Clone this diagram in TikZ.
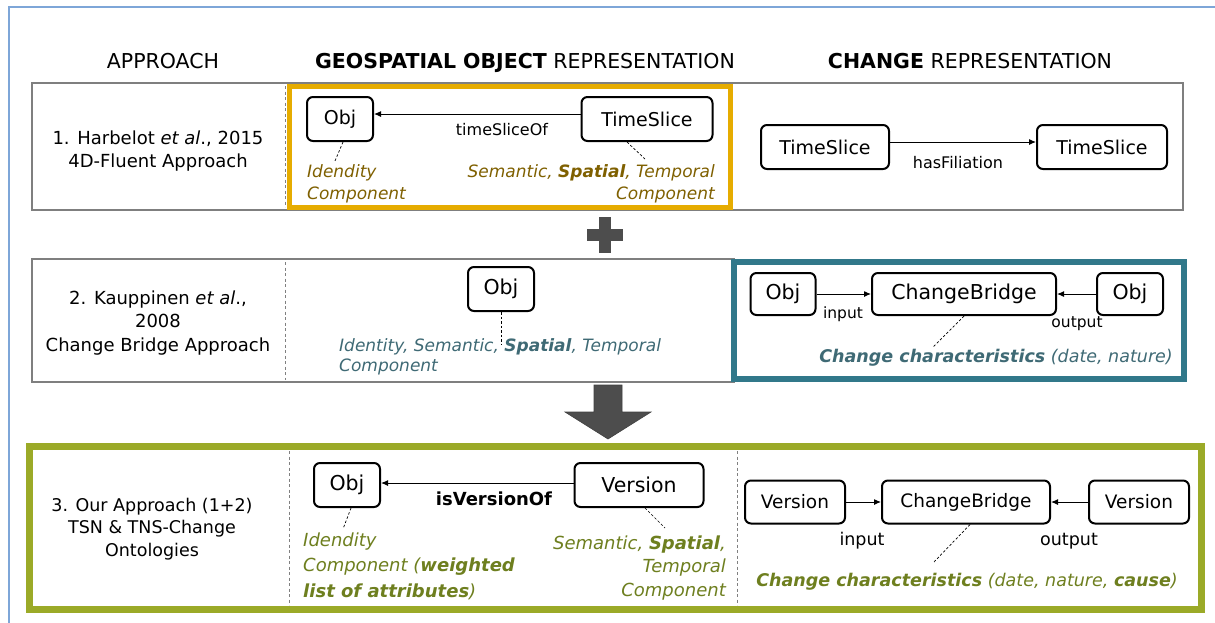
\documentclass[tikz,border=0pt]{standalone}
\usepackage{fontspec}
\setmainfont{DejaVu Sans}
\usetikzlibrary{arrows.meta}
\definecolor{goldframe}{HTML}{E6AC00}
\definecolor{goldtext}{HTML}{7F6000}
\definecolor{tealframe}{HTML}{31788A}
\definecolor{tealtext}{HTML}{3F6A75}
\definecolor{greenframe}{HTML}{9BAA28}
\definecolor{greentext}{HTML}{6E7F1F}
\definecolor{outerblue}{HTML}{7EA6D8}
\definecolor{boxgray}{HTML}{7F7F7F}
\definecolor{shapegray}{HTML}{4D4D4D}
\newcommand{\myfs}[2]{\fontsize{#1}{#2}\selectfont}
\begin{document}
\begin{tikzpicture}[x=1pt,y=-1pt,
  box/.style={draw=black, line width=2pt, rounded corners=6pt, fill=white,
    inner sep=0pt},
  lbl/.style={inner sep=0pt, anchor=base, font=\myfs{16}{19}},
  conn/.style={-{Latex[length=7pt,width=6pt]}, line width=1pt},
  dlink/.style={dash pattern=on 2.5pt off 2pt, line width=0.7pt},
  divider/.style={draw=gray, dash pattern=on 3pt off 2.5pt, line width=0.7pt},
  head/.style={inner sep=0pt, anchor=base, font=\myfs{20.5}{24}},
  rowtxt/.style={inner sep=0pt, anchor=north, align=center},
  comptxt/.style={inner sep=0pt, font=\itshape},
]
\useasboundingbox (0,0) rectangle (1215,622);
\fill[white] (0,0) rectangle (1215,622);
\draw[outerblue, line width=2pt] (9,630) -- (9,7) -- (1220,7);

% headers
\node[head] (h1) at (163,68) {APPROACH};
\node[head] (h2) at (525,68) {\textbf{GEOSPATIAL OBJECT} REPRESENTATION};
\node[head] (h3) at (970,68) {\textbf{CHANGE} REPRESENTATION};

% ---------------- row 1
\draw[boxgray, line width=1.3pt] (32,83) rectangle (1183,210);
\draw[divider] (285,86) -- (285,207);
\draw[goldframe, line width=5pt] (289.5,86) rectangle (730,207.5);
\node[rowtxt, font=\myfs{18}{23}] (r1) at (158,130.3)
  {1. Harbelot \textit{et al}., 2015\\4D-Fluent Approach};

\node[box, minimum width=66pt, minimum height=44pt, font=\myfs{19}{22}] (obj1) at (340,119) {Obj};
\node[box, minimum width=131pt, minimum height=44pt, font=\myfs{19}{22}] (ts1) at (647,119) {TimeSlice};
\draw[conn] ([yshift=5pt]ts1.west) -- ([yshift=5pt]obj1.east);
\node[lbl] (l1) at (502,135) {timeSliceOf};
\node[comptxt, anchor=north west, align=left, text=goldtext, font=\itshape\myfs{17}{22}] (id1) at (307,164)
  {Idendity\\Component};
\node[comptxt, anchor=north east, align=right, text=goldtext, font=\itshape\myfs{17}{22}] (sst1) at (715,164)
  {Semantic, \textbf{Spatial}, Temporal\\Component};
\coordinate (id1t) at (335,161);
\coordinate (sst1t) at (645,159);
\draw[dlink] ([xshift=3pt]obj1.south) -- (id1t);
\draw[dlink] ([xshift=-20pt]ts1.south) -- (sst1t);

\node[box, minimum width=128pt, minimum height=44pt, font=\myfs{19}{22}] (ts2a) at (825,147) {TimeSlice};
\node[box, minimum width=130pt, minimum height=44pt, font=\myfs{19}{22}] (ts2b) at (1102,147) {TimeSlice};
\draw[conn] ([yshift=5pt]ts2a.east) -- ([yshift=5pt]ts2b.west);
\node[lbl] (l2) at (958,168) {hasFiliation};

% plus
\fill[shapegray] (599,217) rectangle (611,253);
\fill[shapegray] (587,229) rectangle (623,241);

% ---------------- row 2
\draw[boxgray, line width=1.3pt] (32,259) rectangle (734,382);
\draw[divider] (285,262) -- (285,380);
\node[rowtxt, font=\myfs{18}{23.5}] (r2) at (158,290.3)
  {2. Kauppinen \textit{et al}.,\\2008\\Change Bridge Approach};
\node[box, minimum width=66pt, minimum height=44pt, font=\myfs{20.5}{24}] (obj2) at (501,289) {Obj};
\node[comptxt, anchor=north west, align=left, text=tealtext, font=\itshape\myfs{17}{20.5}] (comp2) at (339,338)
  {Identity, Semantic, \textbf{Spatial}, Temporal\\Component};
\coordinate (comp2t) at (501,345);
\draw[dlink] (obj2.south) -- (comp2t);

\draw[tealframe, line width=6pt] (734,261.5) rectangle (1184,378.5);
\node[box, minimum width=65pt, minimum height=42pt, font=\myfs{20.5}{24}] (objA) at (783,294) {Obj};
\node[box, minimum width=184pt, minimum height=42pt, font=\myfs{20.5}{24}] (cb2) at (964,294) {ChangeBridge};
\node[box, minimum width=66pt, minimum height=42pt, font=\myfs{20.5}{24}] (objB) at (1130,294) {Obj};
\draw[conn] (objA.east) -- (cb2.west);
\draw[conn] (objB.west) -- (cb2.east);
\node[lbl, font=\myfs{15.5}{18}] (l3) at (843,318) {input};
\node[lbl, font=\myfs{15.5}{18}] (l4) at (1077,327) {output};
\coordinate (cc2t) at (933,347);
\draw[dlink] (cb2.south) -- (cc2t);
\node[comptxt, anchor=base east, text=tealtext, font=\itshape\myfs{17.5}{21}] (cc2) at (1173,362)
  {\textbf{Change characteristics} (date, nature)};

% down arrow
\filldraw[fill=shapegray, draw=black!75, line width=0.6pt]
  (594,385) -- (622,385) -- (622,412) -- (651,412) -- (608,439) -- (565,412) -- (594,412) -- cycle;

% ---------------- row 3
\fill[white] (29,446.5) rectangle (1201,609.5);
\draw[divider] (289,451) -- (289,605);
\draw[divider] (737,451) -- (737,605);
\draw[greenframe, line width=7pt] (29,446.5) rectangle (1201,609.5);
\node[rowtxt, font=\myfs{17.5}{22.5}] (r3) at (152,497.7)
  {3. Our Approach (1+2)\\TSN \& TNS-Change\\Ontologies};

\node[box, minimum width=66pt, minimum height=44pt, font=\myfs{20.5}{24}] (obj3) at (347,485) {Obj};
\node[box, minimum width=129pt, minimum height=44pt, font=\myfs{20.5}{24}] (ver3) at (639,485) {Version};
\draw[conn] ([yshift=2pt]ver3.west) -- ([yshift=2pt]obj3.east);
\node[lbl, font=\bfseries\myfs{18}{21}] (l5) at (494,505) {isVersionOf};
\node[comptxt, anchor=north west, align=left, text=greentext, font=\itshape\myfs{18}{25.5}] (id3) at (303,532.3)
  {Idendity\\Component (\textbf{weighted}\\\textbf{list of attributes})};
\node[comptxt, anchor=north east, align=right, text=greentext, font=\itshape\myfs{18}{23.5}] (sst3) at (726,535.3)
  {Semantic, \textbf{Spatial},\\Temporal\\Component};
\coordinate (id3t) at (343,529);
\coordinate (sst3t) at (665,528);
\draw[dlink] ([xshift=4pt]obj3.south) -- (id3t);
\draw[dlink] ([xshift=6pt]ver3.south) -- (sst3t);

\node[box, minimum width=100pt, minimum height=43pt, font=\myfs{18.5}{22}] (verA) at (795,502) {Version};
\node[box, minimum width=168pt, minimum height=43pt, font=\myfs{18.5}{22}] (cb3) at (966,502) {ChangeBridge};
\node[box, minimum width=100pt, minimum height=43pt, font=\myfs{18.5}{22}] (verB) at (1139,502) {Version};
\draw[conn] (verA.east) -- (cb3.west);
\draw[conn] (verB.west) -- (cb3.east);
\node[lbl, font=\myfs{17.5}{21}] (l6) at (862,545) {input};
\node[lbl, font=\myfs{17.5}{21}] (l7) at (1069,545) {output};
\coordinate (cc3t) at (934,562);
\draw[dlink] ([xshift=4pt]cb3.south) -- (cc3t);
\node[comptxt, anchor=base east, text=greentext, font=\itshape\myfs{17.5}{21}] (cc3) at (1178,586)
  {\textbf{Change characteristics} (date, nature, \textbf{cause})};
\end{tikzpicture}
\end{document}
